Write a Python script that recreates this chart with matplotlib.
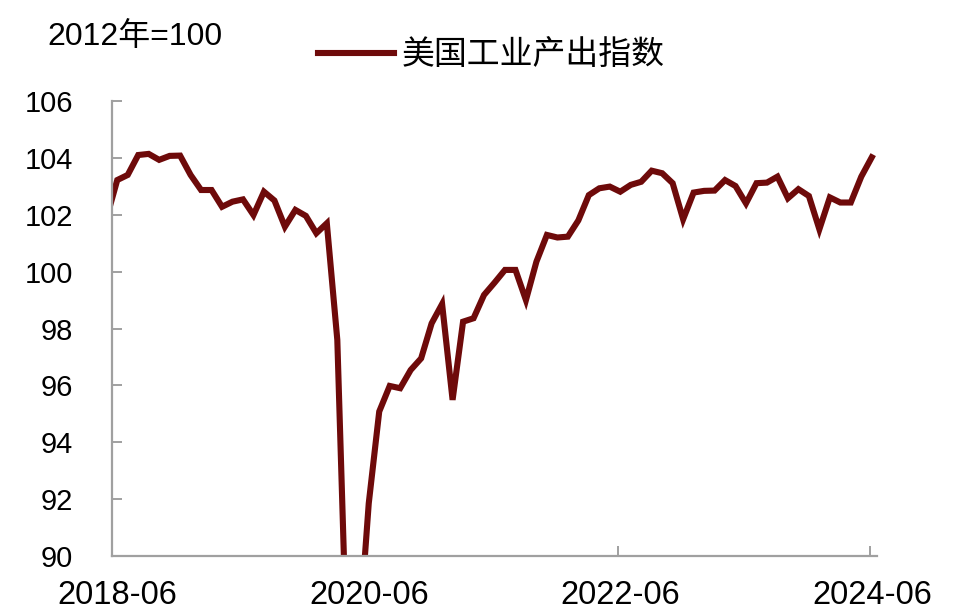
import numpy as np
import matplotlib
matplotlib.use('Agg')
from matplotlib import pyplot

# monthly index, 2018-05 .. 2024-06 (2018-05 sits left of the axis and is clipped)
months = ['2018-05'] + ['%d-%02d' % (2018 + (m + 5) // 12, (m + 5) % 12 + 1) for m in range(73)]
values = [101.9,
          103.22, 103.40, 104.10, 104.14, 103.93, 104.07, 104.08, 103.40, 102.87, 102.87,
          102.28, 102.46, 102.54, 101.99, 102.81, 102.50, 101.58, 102.17, 101.96, 101.35,
          101.70, 97.60, 85.50, 86.80, 91.85, 95.08, 95.98, 95.90, 96.54, 96.95,
          98.18, 98.86, 95.49, 98.24, 98.36, 99.18, 99.61, 100.06, 100.06, 99.00,
          100.35, 101.29, 101.20, 101.23, 101.80, 102.69, 102.93, 102.99, 102.81, 103.05,
          103.16, 103.55, 103.46, 103.11, 101.84, 102.78, 102.84, 102.85, 103.22, 103.01,
          102.40, 103.11, 103.13, 103.34, 102.58, 102.90, 102.66, 101.49, 102.61, 102.43,
          102.43, 103.34, 104.02]
tick_labels = ['2018-06', '2020-06', '2022-06', '2024-06']
series_name = '美国工业产出指数'
unit_note = '2012年=100'

line_color = '#6e0a0a'
axis_color = '#a0a0a0'
latin = ['Liberation Sans', 'Noto Sans CJK SC']
cjk = ['Noto Sans CJK SC', 'DejaVu Sans']

fig = pyplot.figure(figsize=(9.6, 6.11), dpi=100)
ax = fig.add_axes([112/960, 55/611, (877-112)/960, (556-101)/611])

# category centres: first shown month (2018-06) sits at 0.5
x = np.arange(len(values)) - 1 + 0.5
ax.plot(x, values, color=line_color, lw=4.4, solid_joinstyle='miter', label=series_name)

ax.set_xlim(0, 73)
ax.set_ylim(90, 106)
ax.set_yticks(np.arange(90, 107, 2))

ax.set_xticks([0, 24, 48.3, 72.3])
ax.set_xticklabels([])
ax.set_xticks([0.5, 24.5, 48.5, 72.5], minor=True)
ax.set_xticklabels(tick_labels, minor=True)

for side in ['top', 'right']:
    ax.spines[side].set_visible(False)
for side in ['left', 'bottom']:
    ax.spines[side].set_color(axis_color)
    ax.spines[side].set_linewidth(1.6)

ax.tick_params(axis='both', which='major', direction='in', length=7, width=1.4, color=axis_color)
ax.tick_params(axis='x', which='minor', length=0, pad=17)
ax.tick_params(axis='y', which='major', pad=28)
for lab in ax.get_xticklabels(minor=True):
    lab.set_fontfamily(latin)
    lab.set_fontsize(23.5)
for lab in ax.get_yticklabels():
    lab.set_fontfamily(latin)
    lab.set_fontsize(21)

fig.text(47/960, 1 - 37/611, unit_note, fontsize=23, family=latin, va='center', ha='left')

leg = ax.legend(loc='center left', bbox_to_anchor=(318/960, 1 - 56/611), bbox_transform=fig.transFigure,
                frameon=False, borderpad=0, borderaxespad=0, handlelength=2.3, handletextpad=0.25,
                prop={'family': cjk, 'size': 23.7})

pyplot.savefig('out.png', dpi=100)
